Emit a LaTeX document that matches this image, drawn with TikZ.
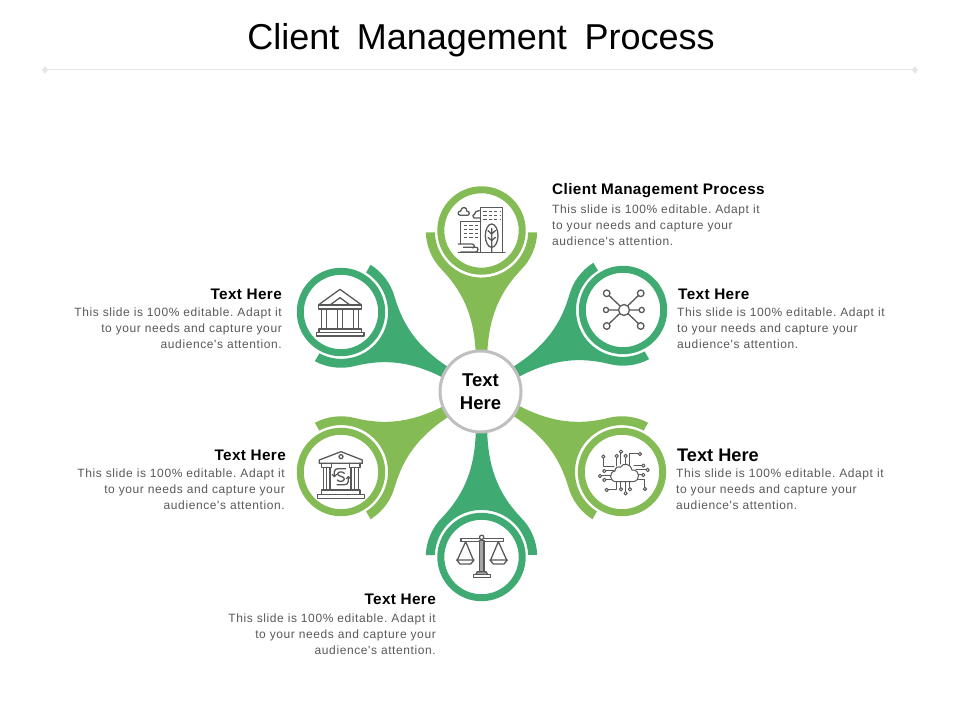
\documentclass[tikz,border=0pt]{standalone}
\usepackage{fontspec}
\setmainfont{Liberation Sans}
\newfontfamily\bodyf[LetterSpace=5]{Liberation Sans}
\newfontfamily\ttlf[LetterSpace=2.5]{Liberation Sans}
\definecolor{lightg}{HTML}{84BB54}
\definecolor{darkg}{HTML}{3FAB72}
\definecolor{hubgray}{HTML}{BFBFBF}
\definecolor{bodyc}{HTML}{595959}
\definecolor{iconc}{HTML}{595959}
\definecolor{rulec}{HTML}{E6E6E6}
\tikzset{
  ttl/.style={font=\ttlf\fontsize{15.3}{18}\selectfont\bfseries,inner sep=0pt,text=black},
  bodyr/.style={font=\bodyf\fontsize{12}{16}\selectfont\frenchspacing,inner sep=0pt,text=bodyc,align=right},
  bodyl/.style={font=\bodyf\fontsize{12}{16}\selectfont\frenchspacing,inner sep=0pt,text=bodyc,align=left},
  ic/.style={draw=iconc,line width=1.3pt,line join=round,line cap=round},
  thin ic/.style={draw=iconc,line width=1pt,line join=round,line cap=round},
  win/.style={draw=iconc,line width=1.5pt,dash pattern=on 3.2pt off 2.2pt},
}
\newcommand{\petal}[4]{% x,y,rot,colour
 \begin{scope}[shift={(#1,#2)},rotate=#3]
  \fill[#4] (-55.7,-2) arc[start angle=182,end angle=225,radius=55.7]
    .. controls (-20,-60) and (-7,-84) .. (-5.7,-125) -- (5.7,-125)
    .. controls (7,-84) and (20,-60) .. (39.4,-39.4)
    arc[start angle=315,end angle=358,radius=55.7]
    -- (46.7,-2) arc[start angle=358,end angle=182,radius=46.7] -- cycle;
  \draw[#4,line width=7pt,fill=white] (0,0) circle (40.7);
 \end{scope}}
\begin{document}
\begin{tikzpicture}[x=1pt,y=1pt]
\useasboundingbox (0,0) rectangle (960,720);
\fill[white] (0,0) rectangle (960,720);
\node[font=\fontsize{36}{40}\selectfont,inner sep=0pt] (title) at (481,680) {\spaceskip=17.5pt\relax Client Management Process};
\coordinate (ra) at (45,650); \coordinate (rb) at (915,650);
\draw[rulec,line width=1pt] (ra) -- (rb);
\fill[rulec] (45,654)--(48,650)--(45,646)--(42,650)--cycle (915,654)--(918,650)--(915,646)--(912,650)--cycle;
\petal{481.5}{489.5}{0}{lightg}
\petal{623}{410}{-60}{darkg}
\petal{622}{248}{-120}{lightg}
\petal{481.5}{163}{180}{darkg}
\petal{341}{248}{120}{lightg}
\petal{341}{408}{60}{darkg}
\node[circle,draw=hubgray,line width=3pt,fill=white,minimum size=81pt,inner sep=0pt,align=center,font=\fontsize{18.5}{23}\selectfont\bfseries] (hub) at (480.5,328.5) {Text\\Here};
% texts
\node[ttl,anchor=west] (t1) at (552,529) {Client Management Process};
\node[bodyl,anchor=north west] (b1) at (552,515) {This slide is 100\% editable. Adapt it\\to your needs and capture your\\audience's attention.};
\node[ttl,anchor=west] (t2) at (678,426) {Text Here};
\node[bodyl,anchor=north west] (b2) at (677,412.5) {This slide is 100\% editable. Adapt it\\to your needs and capture your\\audience's attention.};
\node[ttl,anchor=west,font=\fontsize{18.2}{20}\selectfont\bfseries] (t3) at (677,265) {Text Here};
\node[bodyl,anchor=north west] (b3) at (676,251.5) {This slide is 100\% editable. Adapt it\\to your needs and capture your\\audience's attention.};
\node[ttl,anchor=east] (t4) at (282,426) {Text Here};
\node[bodyr,anchor=north east] (b4) at (282,412.5) {This slide is 100\% editable. Adapt it\\to your needs and capture your\\audience's attention.};
\node[ttl,anchor=east] (t5) at (286,265) {Text Here};
\node[bodyr,anchor=north east] (b5) at (285,251.5) {This slide is 100\% editable. Adapt it\\to your needs and capture your\\audience's attention.};
\node[ttl,anchor=east] (t6) at (436,121) {Text Here};
\node[bodyr,anchor=north east] (b6) at (436,106.5) {This slide is 100\% editable. Adapt it\\to your needs and capture your\\audience's attention.};
% ---------- icon: buildings
\begin{scope}[shift={(400,550)},x=.3333pt,y=-.3333pt]
 \draw[ic] (175,248) -- (315,248);
 \draw[ic] (242,248) -- (242,112) -- (308,112) -- (308,248);
 \draw[ic] (182,222) -- (182,155) -- (242,155);
 \draw[win] (250,125) -- (302,125) (250,137) -- (302,137) (250,149) -- (302,149);
 \draw[win] (192,167) -- (236,167) (192,179) -- (236,179) (192,191) -- (236,191) (192,203) -- (236,203);
 \draw[ic] (275,197) ellipse (19 and 35);
 \draw[ic] (275,248) -- (275,175) (275,192) -- (264,182) (275,192) -- (286,182) (275,212) -- (264,202) (275,212) -- (286,202);
 \draw[ic] (182,136) .. controls (172,136) and (172,124) .. (182,123) .. controls (184,108) and (202,110) .. (200,123) .. controls (210,123) and (210,136) .. (202,136) -- cycle;
 \draw[ic] (238,122) .. controls (230,122) and (224,126) .. (224,132) .. controls (218,132) and (216,142) .. (222,144) -- (240,144);
 \draw[ic] (175,222) -- (215,222) .. controls (224,222) and (226,232) .. (218,234);
 \draw[ic] (190,232) -- (228,232) .. controls (236,232) and (236,244) .. (228,246) -- (182,246);
\end{scope}
% ---------- icon: network
\begin{scope}[shift={(0,720)},x=1pt,y=-1pt]
 \draw[ic] (606.7,293.3) -- (641,326) (640.7,293.3) -- (606.7,326) (606,310) -- (641.7,310);
 \foreach \px/\py/\pr in {606.7/293.3/3.3,640.7/293.3/3.3,606/310/2.6,641.7/310/2.6,606.7/326/3.3,640.7/326/3.3,624/310/5.5}
   \draw[ic,fill=white] (\px,\py) circle (\pr pt);
\end{scope}
% ---------- icon: cloud circuit
\begin{scope}[shift={(510,320)},x=.3333pt,y=-.3333pt]
 \draw[thin ic] (280,170) -- (280,200) -- (312,200)
   (320,168) -- (320,198) (333,155) -- (333,192) (347,168) -- (347,192)
   (390,162) -- (360,162) -- (360,198)
   (400,197) -- (372,197) (413,210) -- (378,210) (400,225) -- (384,225)
   (405,267) -- (405,240) -- (385,240)
   (283,213) -- (312,213) (270,228) -- (303,228) (283,240) -- (310,240)
   (290,270) -- (320,270) -- (320,245)
   (333,245) -- (333,268) (347,245) -- (347,280) (360,245) -- (360,268);
 \draw[thin ic,fill=white] (318,245) .. controls (298,245) and (296,216) .. (315,213)
   .. controls (315,202) and (326,198) .. (331,202) .. controls (340,186) and (364,192) .. (366,210)
   .. controls (392,208) and (392,245) .. (368,245) -- cycle;
 \foreach \px/\py in {280/170,320/168,333/155,347/168,390/162,400/197,413/210,400/225,405/267,283/213,270/228,283/240,290/270,333/268,347/280,360/268}
   \draw[thin ic,fill=white] (\px,\py) circle (1.7pt);
\end{scope}
% ---------- icon: bank with dollar
\begin{scope}[shift={(285,320)},x=.3333pt,y=-.3333pt]
 \draw[ic] (103,180) -- (168,155) -- (232,180) -- (232,190) -- (103,190) -- cycle;
 \draw[ic] (168,170) circle (2pt);
 \draw[ic] (115,202) rectangle (135,270) (198,202) rectangle (220,270);
 \draw[ic] (110,190) -- (110,202) -- (140,202) -- (140,190) (193,190) -- (193,202) -- (225,202) -- (225,190);
 \draw[ic] (125,202) -- (125,270) (209,202) -- (209,270);
 \draw[ic] (110,270) rectangle (225,283) (98,283) rectangle (238,295);
 \draw[ic] (148,228) -- (148,215) .. controls (148,208) and (154,206) .. (160,206) -- (182,206)
   (190,232) -- (190,245) .. controls (190,252) and (184,254) .. (178,254) -- (156,254);
 \draw[ic] (142,224) -- (148,230) -- (154,224) (184,236) -- (190,230) -- (196,236);
 \draw[ic] (178,220) .. controls (174,214) and (158,214) .. (158,222) .. controls (158,230) and (178,228) .. (178,237) .. controls (178,246) and (160,246) .. (157,240);
\end{scope}
% ---------- icon: scales
\begin{scope}[shift={(400,300)},x=.3333pt,y=-.3333pt]
 \draw[ic,fill=white] (183,356) rectangle (310,365);
 \draw[ic,fill=iconc!55] (238,362) rectangle (252,455);
 \draw[ic,fill=white] (245,352) circle (2.2pt);
 \draw[ic,fill=iconc!55] (232,455) -- (258,455) -- (263,464) -- (227,464) -- cycle;
 \draw[ic,fill=white] (220,464) rectangle (272,473);
 \draw[ic] (172,420) -- (197,365) -- (220,420) (272,420) -- (295,365) -- (320,420);
 \draw[ic] (170,420) -- (222,420) -- (212,432) -- (180,432) -- cycle;
 \draw[ic] (270,420) -- (322,420) -- (312,432) -- (280,432) -- cycle;
\end{scope}
% ---------- icon: temple
\begin{scope}[shift={(311,438)},x=.3333pt,y=-.3333pt]
 \draw[ic] (22,69) -- (87,22) -- (152,69) (57,69) -- (87,47) -- (117,69);
 \draw[ic] (22,69) rectangle (152,81);
 \draw[ic] (32,81) rectangle (47,141) (80,81) rectangle (94,141) (127,81) rectangle (142,141);
 \draw[ic] (24,141) rectangle (152,151) (17,151) rectangle (159,162);
\end{scope}
\end{tikzpicture}
\end{document}
